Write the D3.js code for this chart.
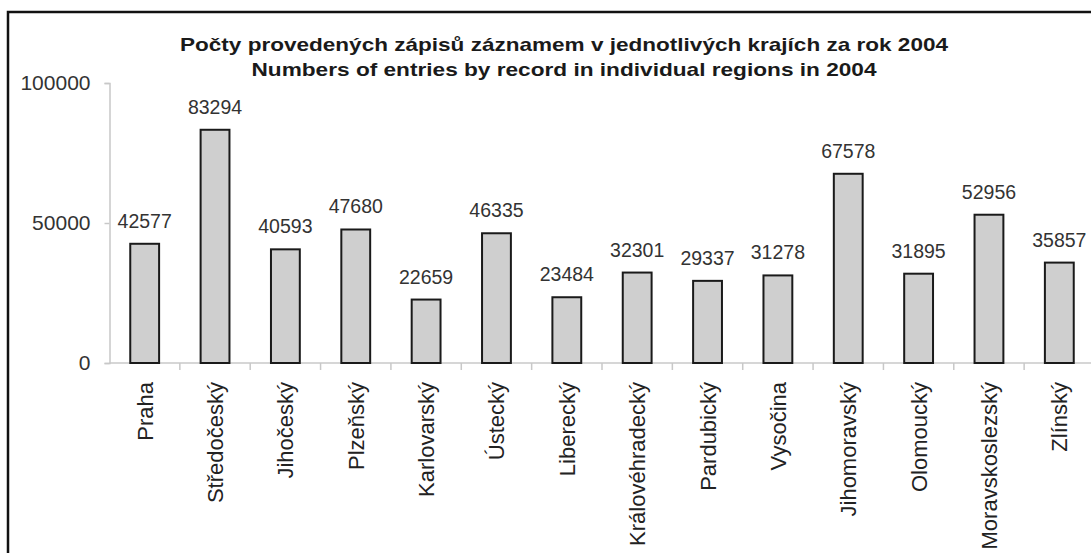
<!DOCTYPE html>
<html>
<head>
<meta charset="utf-8">
<script src="https://cdn.jsdelivr.net/npm/d3@7/dist/d3.min.js"></script>
<style>
  html, body { margin: 0; padding: 0; background: #fff; }
  svg { display: block; font-family: "Liberation Sans", Arial, sans-serif; }
</style>
</head>
<body>
<svg id="chart" width="1091" height="553"></svg>
<script>
// Regions of the Czech Republic
const regions = [
  "Praha", "Středočeský", "Jihočeský", "Plzeňský", "Karlovarský", "Ústecký",
  "Liberecký", "Královéhradecký", "Pardubický", "Vysočina", "Jihomoravský",
  "Olomoucký", "Moravskoslezský", "Zlínský"
];
// Entries by record, 2004
const entries = [
  42577, 83294, 40593, 47680, 22659, 46335, 23484, 32301, 29337, 31278,
  67578, 31895, 52956, 35857
];
const yTicks = [0, 50000, 100000];
const titleLines = [
  "Počty provedených zápisů záznamem v jednotlivých krajích za rok 2004",
  "Numbers of entries by record in individual regions in 2004"
];

const svg = d3.select("#chart");
const W = 1091, H = 553;

// outer frame, running past the right and bottom edges
svg.append("rect")
  .attr("x", 8).attr("y", 12)
  .attr("width", W + 20).attr("height", H + 20)
  .attr("fill", "#fff").attr("stroke", "#111").attr("stroke-width", 2.5);

const plot = { left: 109.5, right: 1094.5, top: 83, bottom: 363 };

const x = d3.scaleBand()
  .domain(regions)
  .range([plot.left, plot.right])
  .paddingInner(0.59)
  .paddingOuter(0.295);

const y = d3.scaleLinear()
  .domain([0, 100000])
  .range([plot.bottom, plot.top]);

// title: a wide bold face, stretched to the line widths
const titleWidths = [768, 625];
svg.append("g")
  .selectAll("text")
  .data(titleLines)
  .join("text")
  .attr("x", 564)
  .attr("y", (d, i) => 51 + i * 25)
  .attr("text-anchor", "middle")
  .attr("font-weight", "bold")
  .attr("font-size", 19)
  .attr("textLength", (d, i) => titleWidths[i])
  .attr("lengthAdjust", "spacingAndGlyphs")
  .attr("fill", "#1a1a1a")
  .text(d => d);

// y axis
const yAxis = svg.append("g")
  .attr("transform", `translate(${plot.left},0)`)
  .call(d3.axisLeft(y).tickValues(yTicks).tickSize(5).tickPadding(14).tickFormat(d3.format("d")));
yAxis.select(".domain").attr("stroke", "#c8c8c8").attr("stroke-width", 1.5);
yAxis.selectAll(".tick line").attr("stroke", "#c8c8c8").attr("stroke-width", 1.5);
yAxis.selectAll(".tick text")
  .attr("font-size", 21).attr("fill", "#333")
  .attr("font-family", "Liberation Sans, Arial, sans-serif");

// x axis line with tick marks between categories
const xg = svg.append("g");
xg.append("line")
  .attr("x1", plot.left).attr("x2", W)
  .attr("y1", plot.bottom).attr("y2", plot.bottom)
  .attr("stroke", "#c8c8c8").attr("stroke-width", 1.5);
const step = x.step();
xg.selectAll("line.sep")
  .data(regions.slice(1))
  .join("line")
  .attr("class", "sep")
  .attr("x1", d => x(d) - (step - x.bandwidth()) / 2)
  .attr("x2", d => x(d) - (step - x.bandwidth()) / 2)
  .attr("y1", plot.bottom).attr("y2", plot.bottom + 7)
  .attr("stroke", "#c8c8c8").attr("stroke-width", 1.5);

// bars
svg.append("g")
  .selectAll("rect")
  .data(regions)
  .join("rect")
  .attr("x", d => x(d))
  .attr("y", (d, i) => y(entries[i]))
  .attr("width", x.bandwidth())
  .attr("height", (d, i) => y(0) - y(entries[i]))
  .attr("fill", "#cfcfcf")
  .attr("stroke", "#1a1a1a")
  .attr("stroke-width", 2);

// value labels
svg.append("g")
  .selectAll("text")
  .data(regions)
  .join("text")
  .attr("x", d => x(d) + x.bandwidth() / 2)
  .attr("y", (d, i) => y(entries[i]) - 16)
  .attr("text-anchor", "middle")
  .attr("font-size", 19.5)
  .attr("fill", "#333")
  .text((d, i) => entries[i]);

// category labels, rotated
svg.append("g")
  .selectAll("text")
  .data(regions)
  .join("text")
  .attr("transform", d => `translate(${x(d) + x.bandwidth() / 2 + 8},382) rotate(-90)`)
  .attr("text-anchor", "end")
  .attr("font-size", 22)
  .attr("fill", "#222")
  .text(d => d);
</script>
</body>
</html>
